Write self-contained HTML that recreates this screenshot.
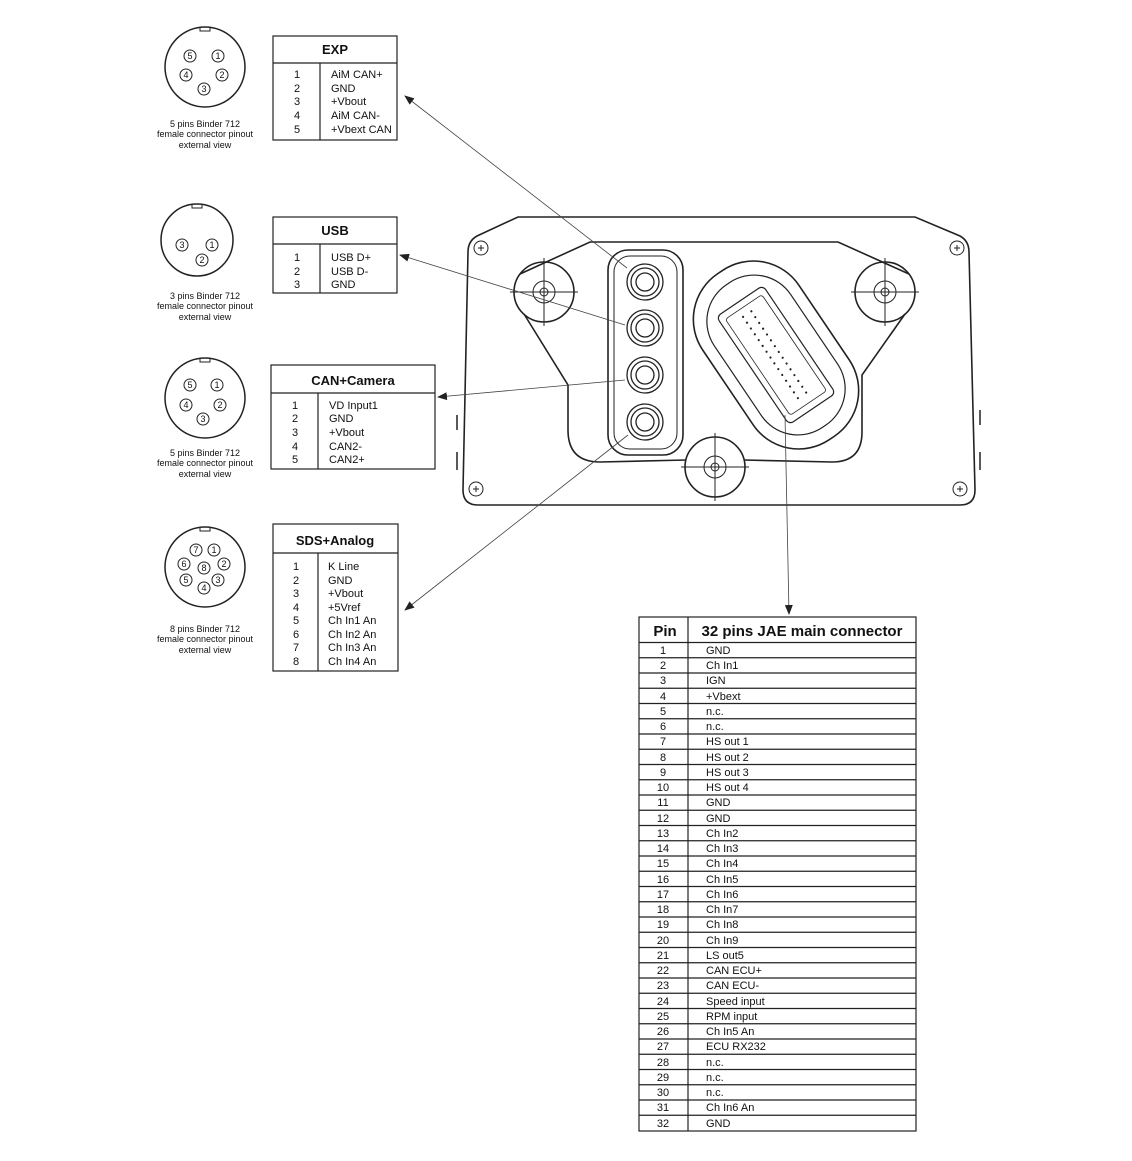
<!DOCTYPE html>
<html><head><meta charset="utf-8"><style>
html,body{margin:0;padding:0;background:#fff}
svg{display:block}
text{font-family:"Liberation Sans",Arial,sans-serif;fill:#111}
.t{font-size:11px}
.s{font-size:9px}
.h{font-size:13px;font-weight:bold}
</style></head><body>
<svg width="1132" height="1161" viewBox="0 0 1132 1161" xmlns="http://www.w3.org/2000/svg">
<defs>
<marker id="ar" markerWidth="10" markerHeight="8" refX="9" refY="4" orient="auto" markerUnits="userSpaceOnUse"><path d="M0,0 L10,4 L0,8 Z" fill="#222"/></marker>
</defs>
<g fill="none" stroke="#222">
<circle cx="205" cy="67" r="40" stroke-width="1.5"/><path d="M200,27 v4 h10 v-4" stroke-width="1"/>
<circle cx="197" cy="240" r="36" stroke-width="1.5"/><path d="M192,204 v4 h10 v-4" stroke-width="1"/>
<circle cx="205" cy="398" r="40" stroke-width="1.5"/><path d="M200,358 v4 h10 v-4" stroke-width="1"/>
<circle cx="205" cy="567" r="40" stroke-width="1.5"/><path d="M200,527 v4 h10 v-4" stroke-width="1"/>
<g stroke-width="1">
<circle cx="190" cy="56" r="6"/><circle cx="218" cy="56" r="6"/><circle cx="186" cy="75" r="6"/><circle cx="222" cy="75" r="6"/><circle cx="204" cy="89" r="6"/>
<circle cx="182" cy="245" r="6"/><circle cx="212" cy="245" r="6"/><circle cx="202" cy="260" r="6"/>
<circle cx="190" cy="385" r="6"/><circle cx="217" cy="385" r="6"/><circle cx="186" cy="405" r="6"/><circle cx="220" cy="405" r="6"/><circle cx="203" cy="419" r="6"/>
<circle cx="196" cy="550" r="6"/><circle cx="214" cy="550" r="6"/><circle cx="184" cy="564" r="6"/><circle cx="204" cy="568" r="6"/><circle cx="224" cy="564" r="6"/><circle cx="186" cy="580" r="6"/><circle cx="218" cy="580" r="6"/><circle cx="204" cy="588" r="6"/>
</g>
<g stroke-width="1.2">
<rect x="273" y="36" width="124" height="104"/><line x1="273" y1="63" x2="397" y2="63"/><line x1="320" y1="63" x2="320" y2="140"/>
<rect x="273" y="217" width="124" height="76"/><line x1="273" y1="244" x2="397" y2="244"/><line x1="320" y1="244" x2="320" y2="293"/>
<rect x="271" y="365" width="164" height="104"/><line x1="271" y1="393" x2="435" y2="393"/><line x1="318" y1="393" x2="318" y2="469"/>
<rect x="273" y="524" width="125" height="147"/><line x1="273" y1="553" x2="398" y2="553"/><line x1="318" y1="553" x2="318" y2="671"/>
</g>
<!-- device -->
<g stroke-width="1.6">
<path d="M518,217 L915,217 L960,236 Q969,241 969,252 L975,490 Q975,505 960,505 L478,505 Q463,505 463,490 L468,252 Q468,241 477,236 Z"/>
<path d="M520,274 L590,242 L838,242 L909,274 M905,314 L862,375 L862,432 Q862,462 832,462 L744,460 M686,460 L600,462 Q568,462 568,430 L568,385 L524,314"/>
<circle cx="544" cy="292" r="30"/><circle cx="885" cy="292" r="30"/><circle cx="715" cy="467" r="30"/>
<rect x="608" y="250" width="75" height="205" rx="20"/>
<rect x="614" y="256" width="63" height="193" rx="16" stroke-width="1"/>
<g transform="translate(776,355) rotate(-34)">
<rect x="-58" y="-100" width="116" height="200" rx="55"/>
<rect x="-46" y="-86" width="92" height="172" rx="44" stroke-width="1.2"/>
<rect x="-28" y="-65" width="56" height="130" rx="5" stroke-width="1.2"/>
<rect x="-22" y="-58" width="44" height="116" rx="3" stroke-width="0.8"/>
<g fill="#222" stroke="none">
<circle cx="-6" cy="-50" r="1.1"/><circle cx="-6" cy="-43" r="1.1"/><circle cx="-6" cy="-36" r="1.1"/><circle cx="-6" cy="-29" r="1.1"/><circle cx="-6" cy="-22" r="1.1"/><circle cx="-6" cy="-15" r="1.1"/><circle cx="-6" cy="-8" r="1.1"/><circle cx="-6" cy="-1" r="1.1"/><circle cx="-6" cy="6" r="1.1"/><circle cx="-6" cy="13" r="1.1"/><circle cx="-6" cy="20" r="1.1"/><circle cx="-6" cy="27" r="1.1"/><circle cx="-6" cy="34" r="1.1"/><circle cx="-6" cy="41" r="1.1"/><circle cx="-6" cy="48" r="1.1"/>
<circle cx="4" cy="-50" r="1.1"/><circle cx="4" cy="-43" r="1.1"/><circle cx="4" cy="-36" r="1.1"/><circle cx="4" cy="-29" r="1.1"/><circle cx="4" cy="-22" r="1.1"/><circle cx="4" cy="-15" r="1.1"/><circle cx="4" cy="-8" r="1.1"/><circle cx="4" cy="-1" r="1.1"/><circle cx="4" cy="6" r="1.1"/><circle cx="4" cy="13" r="1.1"/><circle cx="4" cy="20" r="1.1"/><circle cx="4" cy="27" r="1.1"/><circle cx="4" cy="34" r="1.1"/><circle cx="4" cy="41" r="1.1"/><circle cx="4" cy="48" r="1.1"/>
</g>
</g>
</g>
<g stroke-width="1">
<circle cx="544" cy="292" r="11"/><circle cx="544" cy="292" r="4"/><path d="M544,258 v68 M510,292 h68"/>
<circle cx="885" cy="292" r="11"/><circle cx="885" cy="292" r="4"/><path d="M885,258 v68 M851,292 h68"/>
<circle cx="715" cy="467" r="11"/><circle cx="715" cy="467" r="4"/><path d="M715,433 v68 M681,467 h68"/>
<circle cx="481" cy="248" r="7"/><circle cx="957" cy="248" r="7"/><circle cx="476" cy="489" r="7"/><circle cx="960" cy="489" r="7"/>
<path d="M478,248 h6 M481,245 v6 M954,248 h6 M957,245 v6 M473,489 h6 M476,486 v6 M957,489 h6 M960,486 v6"/>
<path d="M457,415 v15 M457,452 v18 M980,410 v15 M980,452 v18" stroke-width="1.5"/>
</g>
<g stroke-width="1.3">
<circle cx="645" cy="282" r="18"/><circle cx="645" cy="282" r="14"/><circle cx="645" cy="282" r="9"/>
<circle cx="645" cy="328" r="18"/><circle cx="645" cy="328" r="14"/><circle cx="645" cy="328" r="9"/>
<circle cx="645" cy="375" r="18"/><circle cx="645" cy="375" r="14"/><circle cx="645" cy="375" r="9"/>
<circle cx="645" cy="422" r="18"/><circle cx="645" cy="422" r="14"/><circle cx="645" cy="422" r="9"/>
</g>
<g stroke-width="0.8" stroke="#444">
<line x1="627" y1="268" x2="405" y2="96" marker-end="url(#ar)"/>
<line x1="625" y1="325" x2="400" y2="255" marker-end="url(#ar)"/>
<line x1="625" y1="380" x2="438" y2="397" marker-end="url(#ar)"/>
<line x1="628" y1="435" x2="405" y2="610" marker-end="url(#ar)"/>
<line x1="785" y1="415" x2="789" y2="614" marker-end="url(#ar)"/>
</g>
<g stroke-width="1.2">
<rect x="639" y="617" width="277" height="514"/><line x1="688" y1="617" x2="688" y2="1131"/>
<path d="M639,642.5 H916 M639,657.75 H916 M639,673 H916 M639,688.25 H916 M639,703.5 H916 M639,718.75 H916 M639,734 H916 M639,749.25 H916 M639,764.5 H916 M639,779.75 H916 M639,795 H916 M639,810.25 H916 M639,825.5 H916 M639,840.75 H916 M639,856 H916 M639,871.25 H916 M639,886.5 H916 M639,901.75 H916 M639,917 H916 M639,932.25 H916 M639,947.5 H916 M639,962.75 H916 M639,978 H916 M639,993.25 H916 M639,1008.5 H916 M639,1023.75 H916 M639,1039 H916 M639,1054.25 H916 M639,1069.5 H916 M639,1084.75 H916 M639,1100 H916 M639,1115.25 H916"/>
</g>
</g>
<g class="s" text-anchor="middle">
<text x="205" y="127">5 pins Binder 712</text><text x="205" y="137">female connector pinout</text><text x="205" y="148">external view</text>
<text x="205" y="299">3 pins Binder 712</text><text x="205" y="309">female connector pinout</text><text x="205" y="320">external view</text>
<text x="205" y="456">5 pins Binder 712</text><text x="205" y="466">female connector pinout</text><text x="205" y="477">external view</text>
<text x="205" y="632">8 pins Binder 712</text><text x="205" y="642">female connector pinout</text><text x="205" y="653">external view</text>
</g>
<g class="s" text-anchor="middle" font-size="9">
<text x="190" y="59">5</text><text x="218" y="59">1</text><text x="186" y="78">4</text><text x="222" y="78">2</text><text x="204" y="92">3</text>
<text x="182" y="248">3</text><text x="212" y="248">1</text><text x="202" y="263">2</text>
<text x="190" y="388">5</text><text x="217" y="388">1</text><text x="186" y="408">4</text><text x="220" y="408">2</text><text x="203" y="422">3</text>
<text x="196" y="553">7</text><text x="214" y="553">1</text><text x="184" y="567">6</text><text x="204" y="571">8</text><text x="224" y="567">2</text><text x="186" y="583">5</text><text x="218" y="583">3</text><text x="204" y="591">4</text>
</g>
<g class="h" text-anchor="middle">
<text x="335" y="54">EXP</text><text x="335" y="235">USB</text><text x="353" y="385">CAN+Camera</text><text x="335" y="545">SDS+Analog</text>
</g>
<g class="t">
<g text-anchor="middle"><text x="297" y="78">1</text><text x="297" y="92">2</text><text x="297" y="105">3</text><text x="297" y="119">4</text><text x="297" y="133">5</text></g>
<text x="331" y="78">AiM CAN+</text><text x="331" y="92">GND</text><text x="331" y="105">+Vbout</text><text x="331" y="119">AiM CAN-</text><text x="331" y="133">+Vbext CAN</text>
<g text-anchor="middle"><text x="297" y="261">1</text><text x="297" y="275">2</text><text x="297" y="288">3</text></g>
<text x="331" y="261">USB D+</text><text x="331" y="275">USB D-</text><text x="331" y="288">GND</text>
<g text-anchor="middle"><text x="295" y="409">1</text><text x="295" y="422">2</text><text x="295" y="436">3</text><text x="295" y="450">4</text><text x="295" y="463">5</text></g>
<text x="329" y="409">VD Input1</text><text x="329" y="422">GND</text><text x="329" y="436">+Vbout</text><text x="329" y="450">CAN2-</text><text x="329" y="463">CAN2+</text>
<g text-anchor="middle"><text x="296" y="570">1</text><text x="296" y="584">2</text><text x="296" y="597">3</text><text x="296" y="611">4</text><text x="296" y="624">5</text><text x="296" y="638">6</text><text x="296" y="651">7</text><text x="296" y="665">8</text></g>
<text x="328" y="570">K Line</text><text x="328" y="584">GND</text><text x="328" y="597">+Vbout</text><text x="328" y="611">+5Vref</text><text x="328" y="624">Ch In1 An</text><text x="328" y="638">Ch In2 An</text><text x="328" y="651">Ch In3 An</text><text x="328" y="665">Ch In4 An</text>
</g>
<text x="665" y="636" font-size="15" font-weight="bold" text-anchor="middle">Pin</text>
<text x="802" y="636" font-size="15" font-weight="bold" text-anchor="middle">32 pins JAE main connector</text>
<g class="t" text-anchor="middle">
<text x="663" y="654">1</text><text x="663" y="669">2</text><text x="663" y="684">3</text><text x="663" y="700">4</text><text x="663" y="715">5</text><text x="663" y="730">6</text><text x="663" y="745">7</text><text x="663" y="761">8</text><text x="663" y="776">9</text><text x="663" y="791">10</text><text x="663" y="806">11</text><text x="663" y="822">12</text><text x="663" y="837">13</text><text x="663" y="852">14</text><text x="663" y="867">15</text><text x="663" y="883">16</text><text x="663" y="898">17</text><text x="663" y="913">18</text><text x="663" y="928">19</text><text x="663" y="944">20</text><text x="663" y="959">21</text><text x="663" y="974">22</text><text x="663" y="989">23</text><text x="663" y="1005">24</text><text x="663" y="1020">25</text><text x="663" y="1035">26</text><text x="663" y="1050">27</text><text x="663" y="1066">28</text><text x="663" y="1081">29</text><text x="663" y="1096">30</text><text x="663" y="1111">31</text><text x="663" y="1127">32</text>
</g>
<g class="t">
<text x="706" y="654">GND</text><text x="706" y="669">Ch In1</text><text x="706" y="684">IGN</text><text x="706" y="700">+Vbext</text><text x="706" y="715">n.c.</text><text x="706" y="730">n.c.</text><text x="706" y="745">HS out 1</text><text x="706" y="761">HS out 2</text><text x="706" y="776">HS out 3</text><text x="706" y="791">HS out 4</text><text x="706" y="806">GND</text><text x="706" y="822">GND</text><text x="706" y="837">Ch In2</text><text x="706" y="852">Ch In3</text><text x="706" y="867">Ch In4</text><text x="706" y="883">Ch In5</text><text x="706" y="898">Ch In6</text><text x="706" y="913">Ch In7</text><text x="706" y="928">Ch In8</text><text x="706" y="944">Ch In9</text><text x="706" y="959">LS out5</text><text x="706" y="974">CAN ECU+</text><text x="706" y="989">CAN ECU-</text><text x="706" y="1005">Speed input</text><text x="706" y="1020">RPM input</text><text x="706" y="1035">Ch In5 An</text><text x="706" y="1050">ECU RX232</text><text x="706" y="1066">n.c.</text><text x="706" y="1081">n.c.</text><text x="706" y="1096">n.c.</text><text x="706" y="1111">Ch In6 An</text><text x="706" y="1127">GND</text>
</g>
</svg>
</body></html>
